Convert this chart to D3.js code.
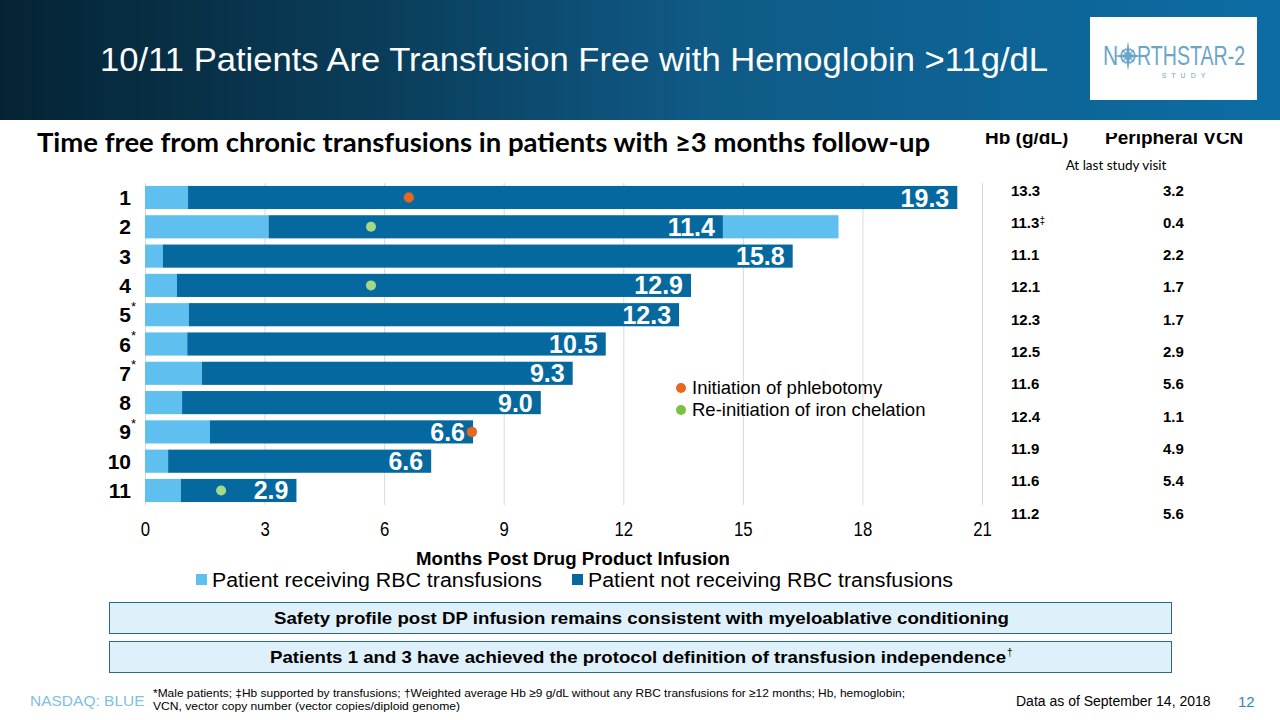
<!DOCTYPE html>
<html><head><meta charset="utf-8">
<script src="https://cdn.jsdelivr.net/npm/d3@7"></script>
<style>
html,body{margin:0;padding:0;background:#fff;}
svg{display:block;}
</style></head>
<body>
<svg id="c" width="1280" height="720"></svg>
<script>
// ---------- data ----------
const patients = ["1","2","3","4","5","6","7","8","9","10","11"];
const maleFlag = [false,false,false,false,true,true,true,false,true,false,false];
const transfusionStart = [1.08,3.1,0.45,0.8,1.1,1.06,1.43,0.93,1.63,0.58,0.9];   // months receiving RBC
const freeMonths = [19.3,11.4,15.8,12.9,12.3,10.5,9.3,9.0,6.6,6.6,2.9];            // months free
const transfusionAfter = [0,2.9,0,0,0,0,0,0,0,0,0];                                // resumed transfusion
const phlebotomyAt = [6.62,null,null,null,null,null,null,null,8.2,null,null];
const chelationAt = [null,5.67,null,5.67,null,null,null,null,null,null,1.91];
const hbValues = ["13.3","11.3","11.1","12.1","12.3","12.5","11.6","12.4","11.9","11.6","11.2"];
const hbMark = ["","‡","","","","","","","","",""];
const vcnValues = ["3.2","0.4","2.2","1.7","1.7","2.9","5.6","1.1","4.9","5.4","5.6"];
const xTicks = [0,3,6,9,12,15,18,21];

const LIGHT = "#5fbfee", DARK = "#05699f", ORANGE = "#e8671f", GREEN_DOT = "#a4da87", GREEN_LEG = "#7cc242";
const ARIAL = "'Liberation Sans', Arial, sans-serif";

const svg = d3.select("#c");
const defs = svg.append("defs");

// ---------- header ----------
const g = defs.append("linearGradient").attr("id","hdr").attr("x1","0").attr("x2","1").attr("y1","0").attr("y2","0");
g.append("stop").attr("offset","0%").attr("stop-color","#052334");
g.append("stop").attr("offset","30%").attr("stop-color","#0a3d5a");
g.append("stop").attr("offset","55%").attr("stop-color","#0f5a86");
g.append("stop").attr("offset","100%").attr("stop-color","#0c6ca3");
svg.append("rect").attr("x",0).attr("y",0).attr("width",1280).attr("height",120).attr("fill","url(#hdr)");
svg.append("text").attr("x",100).attr("y",71).attr("fill","#fff")
  .style("font-family",ARIAL).style("font-size","32.5px")
  .attr("textLength",948).attr("lengthAdjust","spacingAndGlyphs")
  .text("10/11 Patients Are Transfusion Free with Hemoglobin >11g/dL");

// logo
svg.append("rect").attr("x",1090).attr("y",17).attr("width",167).attr("height",83).attr("fill","#fff");
const logoC = "#6ba5c8";
svg.append("text").attr("transform","translate(1103,65) scale(0.75,1)").attr("fill",logoC)
  .style("font-family",ARIAL).style("font-size","28px").text("N");
svg.append("text").attr("transform","translate(1137,65) scale(0.7,1)").attr("fill",logoC)
  .style("font-family",ARIAL).style("font-size","28px").text("RTHSTAR-2");
const star = svg.append("g").attr("transform","translate(1128,56)");
star.append("circle").attr("r",7).attr("fill","none").attr("stroke",logoC).attr("stroke-width",1.5);
star.append("path").attr("d","M0,-15 L2,-2 L15,0 L2,2 L0,15 L-2,2 L-15,0 L-2,-2 Z").attr("fill",logoC);
star.append("path").attr("d","M-6,-6 L6,6 M6,-6 L-6,6").attr("stroke",logoC).attr("stroke-width",1.2);
svg.append("text").attr("x",1186).attr("y",78).attr("fill",logoC).attr("text-anchor","middle")
  .style("font-family",ARIAL).style("font-size","7px").style("letter-spacing","5px").text("STUDY");

// ---------- chart title ----------
svg.append("text").attr("x",37).attr("y",152).attr("fill","#000")
  .style("font-family","Lato, 'Open Sans', sans-serif").style("font-weight","bold").style("font-size","26px")
  .attr("textLength",893).attr("lengthAdjust","spacingAndGlyphs")
  .text("Time free from chronic transfusions in patients with ≥3 months follow-up");

// ---------- scales ----------
const x = d3.scaleLinear().domain([0,21]).range([145,982]);
const y = d3.scaleBand().domain(patients).range([183,505]).paddingInner(0.21).paddingOuter(0.1);

// grid
const grid = svg.append("g").attr("transform",`translate(0,${y.range()[1]})`)
  .call(d3.axisBottom(x).tickValues(xTicks).tickSize(-(y.range()[1]-y.range()[0])).tickFormat(""));
grid.select(".domain").remove();
grid.selectAll(".tick line").attr("stroke","#d9d9d9").attr("stroke-width",1);

// tick labels
const xa = svg.append("g").attr("transform",`translate(0,${y.range()[1]})`)
  .call(d3.axisBottom(x).tickValues(xTicks).tickSize(0).tickPadding(17).tickFormat(d3.format("d")));
xa.select(".domain").remove();
xa.selectAll("text").style("font-family",ARIAL).style("font-size","19.5px").attr("fill","#000")
  .attr("transform","scale(0.86,1)");

// bars
const rows = patients.map((p,i)=>({p,i,a:transfusionStart[i],f:freeMonths[i],b:transfusionAfter[i]}));
const bars = svg.append("g");
bars.selectAll("rect.l1").data(rows).join("rect").attr("class","l1")
  .attr("x",x(0)).attr("y",d=>y(d.p)).attr("height",y.bandwidth())
  .attr("width",d=>x(d.a)-x(0)).attr("fill",LIGHT);
bars.selectAll("rect.dk").data(rows).join("rect").attr("class","dk")
  .attr("x",d=>x(d.a)).attr("y",d=>y(d.p)).attr("height",y.bandwidth())
  .attr("width",d=>x(d.a+d.f)-x(d.a)).attr("fill",DARK);
bars.selectAll("rect.l2").data(rows.filter(d=>d.b>0)).join("rect").attr("class","l2")
  .attr("x",d=>x(d.a+d.f)).attr("y",d=>y(d.p)).attr("height",y.bandwidth())
  .attr("width",d=>x(d.a+d.f+d.b)-x(d.a+d.f)).attr("fill",LIGHT);
bars.selectAll("text.v").data(rows).join("text").attr("class","v")
  .attr("x",d=>x(d.a+d.f)-8).attr("y",d=>y(d.p)+y.bandwidth()/2+9)
  .attr("text-anchor","end").attr("fill","#fff")
  .style("font-family",ARIAL).style("font-weight","bold").style("font-size","25px")
  .text(d=>d3.format(".1f")(d.f));

// markers
const marks = [];
patients.forEach((p,i)=>{
  if(phlebotomyAt[i]!=null) marks.push({p,m:phlebotomyAt[i],c:ORANGE});
  if(chelationAt[i]!=null) marks.push({p,m:chelationAt[i],c:GREEN_DOT});
});
svg.append("g").selectAll("circle").data(marks).join("circle")
  .attr("cx",d=>x(d.m)).attr("cy",d=>y(d.p)+y.bandwidth()/2).attr("r",5)
  .attr("fill",d=>d.c).attr("stroke",d=>d.c===ORANGE?"#a0684a":"none").attr("stroke-width",0.6);

// y labels
const ya = svg.append("g").selectAll("g").data(rows).join("g");
ya.append("text").attr("x",131).attr("y",d=>y(d.p)+y.bandwidth()/2+7.5)
  .attr("text-anchor","end").style("font-family",ARIAL).style("font-weight","bold").style("font-size","21px")
  .text(d=>d.p);
ya.filter(d=>maleFlag[d.i]).append("text").attr("x",131).attr("y",d=>y(d.p)+y.bandwidth()/2-4)
  .style("font-family",ARIAL).style("font-size","13px").text("*");

// legend for markers
const ml = svg.append("g");
[["Initiation of phlebotomy",ORANGE,388],["Re-initiation of iron chelation",GREEN_LEG,410]].forEach(([t,c,yy])=>{
  ml.append("circle").attr("cx",681).attr("cy",yy).attr("r",5).attr("fill",c);
  ml.append("text").attr("x",692).attr("y",yy+6).style("font-family",ARIAL).style("font-size","18.5px").text(t);
});

// axis title
svg.append("text").attr("x",416).attr("y",565)
  .style("font-family",ARIAL).style("font-weight","bold").style("font-size","18px")
  .attr("textLength",314).attr("lengthAdjust","spacingAndGlyphs").text("Months Post Drug Product Infusion");

// series legend
[["Patient receiving RBC transfusions",LIGHT,196,330],["Patient not receiving RBC transfusions",DARK,572,365]].forEach(([t,c,xx,w])=>{
  svg.append("rect").attr("x",xx).attr("y",574).attr("width",11).attr("height",11).attr("fill",c);
  svg.append("text").attr("x",xx+16).attr("y",587).style("font-family",ARIAL).style("font-size","20px")
    .attr("textLength",w).attr("lengthAdjust","spacingAndGlyphs").text(t);
});

// ---------- right table ----------
defs.append("clipPath").attr("id","hclip").append("rect").attr("x",970).attr("y",133).attr("width",310).attr("height",30);
const th = svg.append("g").attr("clip-path","url(#hclip)");
th.append("text").attr("x",985).attr("y",144).style("font-family",ARIAL).style("font-weight","bold").style("font-size","19px").text("Hb (g/dL)");
th.append("text").attr("x",1105).attr("y",144).style("font-family",ARIAL).style("font-weight","bold").style("font-size","19px").text("Peripheral VCN");
svg.append("text").attr("x",1116).attr("y",170).attr("text-anchor","middle")
  .style("font-family","Lato, sans-serif").style("font-size","13.5px").text("At last study visit");
const ty = d3.scalePoint().domain(patients).range([190,513]);
const tr = svg.append("g").selectAll("g").data(rows).join("g");
const hbT = tr.append("text").attr("x",1011).attr("y",d=>ty(d.p)+5.5)
  .style("font-family",ARIAL).style("font-weight","bold").style("font-size","15px");
hbT.append("tspan").text(d=>hbValues[d.i]);
hbT.append("tspan").attr("dy",-4).style("font-size","10px").style("font-weight","normal").text(d=>hbMark[d.i]);
tr.append("text").attr("x",1163).attr("y",d=>ty(d.p)+5.5)
  .style("font-family",ARIAL).style("font-weight","bold").style("font-size","15px").text(d=>vcnValues[d.i]);

// ---------- info boxes ----------
const boxes = [
  {y:602, t:"Safety profile post DP infusion remains consistent with myeloablative conditioning", sup:"", x0:274, w:735},
  {y:641, t:"Patients 1 and 3 have achieved the protocol definition of transfusion independence", sup:"†", x0:270, w:736}
];
boxes.forEach(b=>{
  svg.append("rect").attr("x",109.5).attr("y",b.y+0.5).attr("width",1062).attr("height",31)
    .attr("fill","#def1fb").attr("stroke","#2a6a84").attr("stroke-width",1);
  svg.append("text").attr("x",b.x0).attr("y",b.y+22)
    .style("font-family",ARIAL).style("font-weight","bold").style("font-size","17px")
    .attr("textLength",b.w).attr("lengthAdjust","spacingAndGlyphs").text(b.t);
  if(b.sup) svg.append("text").attr("x",b.x0+b.w+1).attr("y",b.y+15)
    .style("font-family",ARIAL).style("font-size","10px").text(b.sup);
});

// ---------- footer ----------
svg.append("text").attr("x",30).attr("y",706).attr("fill","#7fbfdf")
  .style("font-family",ARIAL).style("font-size","15.5px").text("NASDAQ: BLUE");
svg.append("text").attr("x",153).attr("y",697).style("font-family",ARIAL).style("font-size","11.5px")
  .attr("textLength",752).attr("lengthAdjust","spacingAndGlyphs")
  .text("*Male patients; ‡Hb supported by transfusions; †Weighted average Hb ≥9 g/dL without any RBC transfusions for ≥12 months; Hb, hemoglobin;");
svg.append("text").attr("x",153).attr("y",710).style("font-family",ARIAL).style("font-size","11.5px")
  .attr("textLength",307).attr("lengthAdjust","spacingAndGlyphs")
  .text("VCN, vector copy number (vector copies/diploid genome)");
svg.append("text").attr("x",1016).attr("y",706).style("font-family",ARIAL).style("font-size","14px").text("Data as of September 14, 2018");
svg.append("text").attr("x",1238).attr("y",707).attr("fill","#2f86bb").style("font-family",ARIAL).style("font-size","15px").text("12");
</script>
</body></html>
